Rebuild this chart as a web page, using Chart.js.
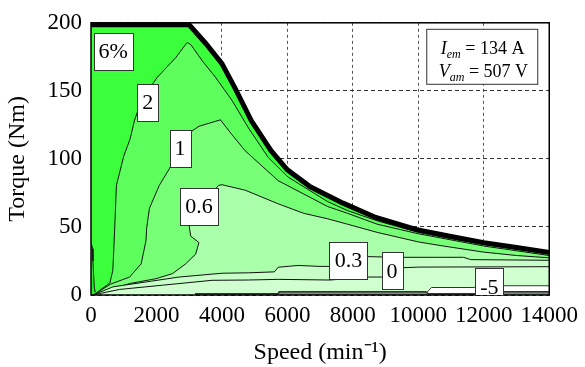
<!DOCTYPE html>
<html>
<head>
<meta charset="utf-8">
<script src="https://cdn.jsdelivr.net/npm/chart.js@4.4.1/dist/chart.umd.min.js"></script>
<style>
  body { margin: 0; background: #fff; }
  #myChart { display: block; }
</style>
</head>
<body>
<canvas id="myChart" width="585" height="367"></canvas>
<script>
const speedTicks = [0, 2000, 4000, 6000, 8000, 10000, 12000, 14000];
const torqueTicks = [0, 50, 100, 150, 200];

// torque-speed limit
const envSpeed  = [0, 3000, 3500, 4000, 4400, 4900, 5500, 6000, 6700, 7700, 8700, 9950, 11000, 12000, 13000, 14000];
const envTorque = [198.5, 198.5, 185, 170, 152, 128, 106, 92, 79.5, 67.5, 57, 48, 43, 38.5, 35, 31.3];

// contour lines (efficiency difference, %)
const c6Speed  = [0, 30, 50, 60, 80, 100, 130];
const c6Torque = [38.5, 38.5, 34, 25, 15, 6, 2];

const c2Speed  = [100, 272, 575, 666, 700, 726, 777, 1000, 1200, 1331, 1500, 1734, 2027, 2593, 2935, 3050, 3400, 3803, 4306, 4811, 5416, 6021, 7231, 7837, 8745, 10000, 12000, 14000];
const c2Torque = [0, 3.6, 8.7, 18, 35, 50, 80.6, 102, 115, 128.5, 140, 150, 160, 174.5, 185.5, 184, 172, 160, 143, 122.7, 101, 86.6, 68.6, 62, 54.5, 46, 37, 30];

const c1Speed  = [70, 600, 1180, 1533, 1680, 1700, 1785, 2088, 2390, 2720, 2995, 3300, 3954, 4300, 4708, 5719, 7231, 7837, 8745, 10000, 12000, 14000];
const c1Torque = [0, 8, 13.2, 22.9, 40, 49, 63.7, 80.6, 92.6, 107.8, 119, 124, 128.7, 118, 106, 84, 65, 60, 52, 45, 36, 29];

const c06Speed  = [70, 1180, 1988, 2490, 2894, 3197, 3298, 3045, 2995, 3300, 3903, 4004, 4711, 5719, 6500, 7231, 7837, 8745, 10000, 10763, 12000, 13000, 14000];
const c06Torque = [0, 8.4, 12, 15.7, 22.9, 30, 38.5, 43.3, 51.8, 65, 80.6, 81, 77, 67, 60, 56, 52, 46, 39, 36, 31.5, 29, 27.3];

const c03Speed  = [60, 676, 1684, 2693, 4004, 4811, 5600, 5719, 6324, 7000, 7292, 7864, 8442, 9349, 11380, 11600, 14000];
const c03Torque = [0, 6, 9.6, 13.2, 16, 16.3, 17, 20.4, 21.7, 21, 21, 25, 28.2, 27.7, 27.7, 26, 25.5];

const c0Speed  = [50, 877, 2187, 3701, 4811, 5719, 7292, 7864, 8442, 8896, 9198, 9500, 10000, 14000];
const c0Torque = [0, 4.1, 7.2, 10.8, 11, 11.5, 11, 12, 13.2, 13.2, 17, 20, 20.5, 20.8];

const cwSpeed  = [10227, 10400, 11700, 11800, 14000];
const cwTorque = [1, 5.5, 5.5, 6.8, 6.8];

const c5Speed  = [3177, 5719, 5750, 10227, 10300, 12000, 12300, 14000];
const c5Torque = [1, 1, 2.4, 2.4, 1, 1, 2.4, 2.4];

const labelText   = ['6%', '2', '1', '0.6', '0.3', '0', '-5'];
const labelSpeed  = [678, 1734, 2720, 3298, 7864, 9198, 12172];
const labelTorque = [179, 141.7, 107.8, 65.2, 25.3, 17.8, 6];

const infoLines = [['I', 'em', ' = 134 A'], ['V', 'am', ' = 507 V']];

Chart.defaults.font.family = '"Liberation Serif", "Times New Roman", serif';
Chart.defaults.color = '#000';

function puntos(xs, ys) {
  return xs.map((x, i) => ({x: x, y: ys[i]}));
}

function capa(xs, ys, relleno, borde, ancho, orden) {
  return {
    data: puntos(xs, ys),
    fill: relleno ? 'origin' : false,
    backgroundColor: relleno || 'transparent',
    borderColor: borde,
    borderWidth: ancho,
    pointRadius: 0,
    tension: 0,
    order: orden
  };
}

const etiquetas = {
  id: 'etiquetas',
  afterDatasetsDraw(chart) {
    const {ctx, chartArea: a, scales: {x, y}} = chart;
    ctx.save();
    ctx.strokeStyle = '#000';
    ctx.lineWidth = 1.5;
    ctx.strokeRect(a.left, a.top, a.right - a.left, a.bottom - a.top);

    ctx.beginPath();
    ctx.rect(a.left, a.top, a.right - a.left, a.bottom - a.top);
    ctx.clip();
    ctx.font = '22px "Liberation Serif"';
    ctx.textAlign = 'center';
    ctx.textBaseline = 'middle';
    labelText.forEach((t, i) => {
      const px = x.getPixelForValue(labelSpeed[i]);
      const py = y.getPixelForValue(labelTorque[i]);
      const w = Math.round(ctx.measureText(t).width) + 10;
      const h = 37;
      const l = Math.round(px - w / 2) + 0.5;
      const tp = Math.round(py - h / 2) + 0.5;
      ctx.fillStyle = '#fff';
      ctx.fillRect(l, tp, w, h);
      ctx.strokeStyle = '#333';
      ctx.lineWidth = 1;
      ctx.strokeRect(l, tp, w, h);
      ctx.fillStyle = '#000';
      ctx.fillText(t, px, py + 1);
    });

    // info box
    const bx = a.right - 122.5, by = a.top + 6.5;
    ctx.fillStyle = '#fff';
    ctx.fillRect(bx, by, 111, 55);
    ctx.strokeStyle = '#333';
    ctx.strokeRect(bx, by, 111, 55);
    ctx.textAlign = 'left';
    ctx.textBaseline = 'alphabetic';
    ctx.fillStyle = '#000';
    infoLines.forEach((ln, i) => {
      let cx = bx + (i === 0 ? 14 : 12);
      const base = by + 24.5 + i * 23;
      ctx.font = 'italic 18px "Liberation Serif"';
      ctx.fillText(ln[0], cx, base);
      cx += ctx.measureText(ln[0]).width;
      ctx.font = 'italic 12px "Liberation Serif"';
      ctx.fillText(ln[1], cx, base + 4);
      cx += ctx.measureText(ln[1]).width;
      ctx.font = '18px "Liberation Serif"';
      ctx.fillText(ln[2], cx, base);
    });
    ctx.restore();
  }
};

let myChart;

function charts() {
  const ctx = document.getElementById('myChart').getContext('2d');
  myChart = new Chart(ctx, {
    type: 'line',
    data: {
      datasets: [
        capa(envSpeed, envTorque, '#3cff3c', 'transparent', 0, 10),
        capa(c6Speed, c6Torque, '#22ee22', '#111', 1, 9),
        capa(c2Speed, c2Torque, '#5cff5c', '#111', 1, 8),
        capa(c1Speed, c1Torque, '#78ff78', '#111', 1, 7),
        capa(c06Speed, c06Torque, '#aaffaa', '#111', 1, 6),
        capa(c03Speed, c03Torque, '#c8ffc8', '#111', 1, 5),
        capa(c0Speed, c0Torque, '#d0ffd0', '#111', 1, 4),
        capa(cwSpeed, cwTorque, '#ffffff', '#333', 1, 3),
        capa(c5Speed, c5Torque, '#7d8c7d', '#333', 1.5, 2),
        capa(envSpeed, envTorque, null, '#000', 5, 1)
      ]
    },
    options: {
      responsive: false,
      animation: false,
      devicePixelRatio: 1,
      layout: { padding: { top: 18, right: 31, left: 0, bottom: 0 } },
      plugins: { legend: { display: false }, tooltip: { enabled: false } },
      scales: {
        x: {
          type: 'linear',
          min: 0,
          max: 14000,
          afterBuildTicks: (s) => { s.ticks = speedTicks.map(v => ({value: v})); },
          afterFit: (s) => { s.height = 72; },
          ticks: { padding: 7, font: { size: 23 }, callback: (v) => String(v) },
          grid: { color: '#555', drawTicks: false },
          border: { display: false, dash: [3, 3] },
          title: { display: true, text: 'Speed (min⁻¹)', font: { size: 24 }, padding: { top: 1, bottom: 0 } }
        },
        y: {
          min: 0,
          max: 200,
          afterBuildTicks: (s) => { s.ticks = torqueTicks.map(v => ({value: v})); },
          afterFit: (s) => { s.width = 91; },
          ticks: { padding: 9, font: { size: 23 } },
          grid: { color: '#333', drawTicks: false },
          border: { display: false, dash: [4, 3] },
          title: { display: true, text: 'Torque (Nm)', font: { size: 24 }, padding: { top: 3, bottom: 0 } }
        }
      }
    },
    plugins: [etiquetas]
  });
  return myChart;
}

charts();
</script>
</body>
</html>
